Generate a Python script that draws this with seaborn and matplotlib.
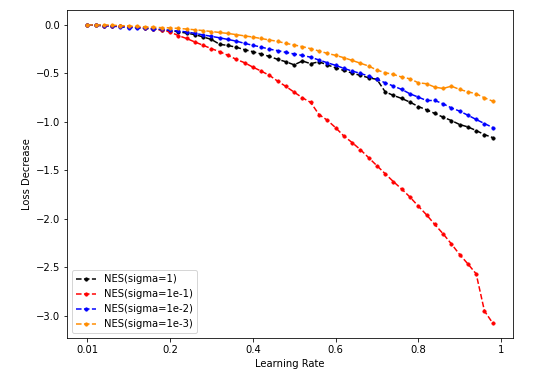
import numpy as np
import pandas as pd
import seaborn as sns
import matplotlib
matplotlib.use("Agg")
import matplotlib.pyplot as plt

# learning rate positions (plotted 0..0.98, first tick labelled 0.01)
lr = np.arange(50) * 0.02

loss_sigma_1 = [0.0, -0.003, -0.006, -0.01, -0.015, -0.02, -0.026, -0.033, -0.042, -0.05,
                -0.06, -0.07, -0.085, -0.1, -0.124, -0.15, -0.2, -0.212, -0.23, -0.255,
                -0.276, -0.3, -0.325, -0.355, -0.38, -0.412, -0.372, -0.4, -0.38, -0.412,
                -0.442, -0.47, -0.497, -0.521, -0.545, -0.562, -0.69, -0.728, -0.759, -0.797,
                -0.842, -0.876, -0.914, -0.952, -0.987, -1.028, -1.053, -1.09, -1.132, -1.163]

loss_sigma_1e1 = [0.0, -0.003, -0.006, -0.01, -0.014, -0.019, -0.025, -0.032, -0.04, -0.055,
                  -0.072, -0.11, -0.14, -0.176, -0.21, -0.245, -0.276, -0.314, -0.355, -0.39,
                  -0.435, -0.476, -0.52, -0.58, -0.635, -0.694, -0.752, -0.80, -0.925, -0.983,
                  -1.06, -1.146, -1.214, -1.287, -1.37, -1.453, -1.536, -1.618, -1.694, -1.777,
                  -1.87, -1.96, -2.06, -2.156, -2.26, -2.37, -2.467, -2.57, -2.953, -3.078]

loss_sigma_1e2 = [0.0, -0.003, -0.008, -0.012, -0.02, -0.028, -0.03, -0.035, -0.042, -0.047,
                  -0.055, -0.063, -0.072, -0.087, -0.103, -0.118, -0.133, -0.15, -0.167, -0.19,
                  -0.21, -0.228, -0.25, -0.265, -0.283, -0.3, -0.315, -0.333, -0.362, -0.39,
                  -0.417, -0.448, -0.476, -0.5, -0.528, -0.562, -0.597, -0.631, -0.666, -0.711,
                  -0.745, -0.78, -0.78, -0.814, -0.856, -0.89, -0.932, -0.976, -1.018, -1.059]

loss_sigma_1e3 = [0.0, 0.0, 0.0, -0.003, -0.007, -0.01, -0.016, -0.02, -0.024, -0.028,
                  -0.03, -0.036, -0.042, -0.05, -0.058, -0.068, -0.078, -0.088, -0.1, -0.113,
                  -0.125, -0.14, -0.155, -0.17, -0.19, -0.207, -0.224, -0.245, -0.269, -0.293,
                  -0.314, -0.338, -0.366, -0.395, -0.424, -0.466, -0.493, -0.511, -0.538, -0.556,
                  -0.597, -0.607, -0.642, -0.656, -0.632, -0.666, -0.69, -0.711, -0.752, -0.787]

labels = ["NES(sigma=1)", "NES(sigma=1e-1)", "NES(sigma=1e-2)", "NES(sigma=1e-3)"]
colors = ["black", "red", "blue", "darkorange"]
series = [loss_sigma_1, loss_sigma_1e1, loss_sigma_1e2, loss_sigma_1e3]

xtick_pos = [0, 0.2, 0.4, 0.6, 0.8, 1]
xtick_labels = ["0.01", "0.2", "0.4", "0.6", "0.8", "1"]

fig = plt.figure(figsize=(554 / 72, 377 / 72), dpi=72)
ax = fig.add_axes([0.121, 0.1034, 0.805, 0.870])

for vals, lab, col in zip(series, labels, colors):
    df = pd.DataFrame({"lr": lr, "loss": vals})
    sns.lineplot(data=df, x="lr", y="loss", ax=ax, color=col, label=lab,
                 linestyle="--", marker=".", markersize=7,
                 markeredgecolor=col, markeredgewidth=0.5)

ax.set_xticks(xtick_pos)
ax.set_xticklabels(xtick_labels)
ax.set_xlabel("Learning Rate")
ax.set_ylabel("Loss Decrease")
ax.legend(loc="lower left")

fig.savefig("out.png", dpi=72)
